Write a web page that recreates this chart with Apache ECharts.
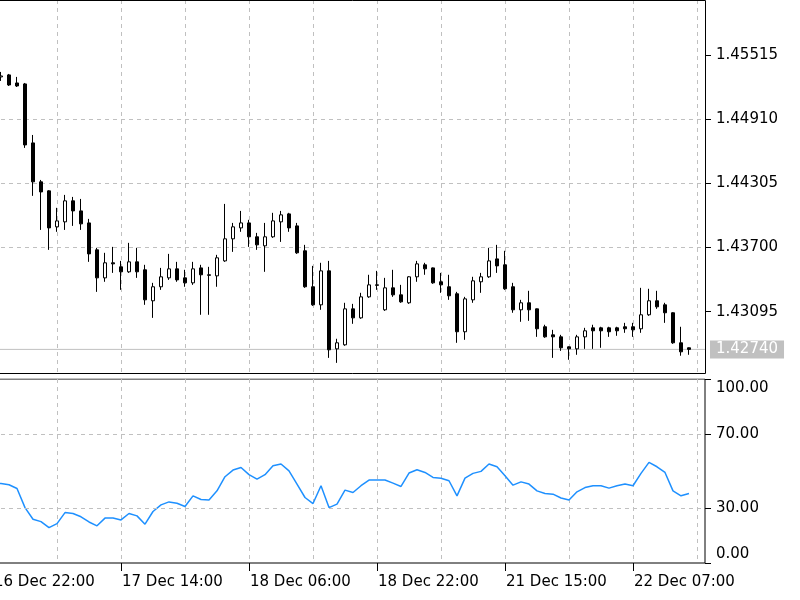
<!DOCTYPE html>
<html>
<head>
<meta charset="utf-8">
<script src="https://cdn.jsdelivr.net/npm/echarts@6/dist/echarts.min.js"></script>
<style>html,body{margin:0;padding:0;background:#fff}#main{width:800px;height:600px}</style>
</head>
<body>
<div id="main"></div>
<script>
// ---- time categories (one per hourly bar, incl. one bar left of view and two empty slots at right)
const timeSegments = [['16 Dec', 22, 23], ['17 Dec', 0, 23], ['18 Dec', 0, 22], ['21 Dec', 0, 23], ['22 Dec', 0, 16]];
const categories = [];
timeSegments.forEach(function (s) {
  for (let h = s[1]; h <= s[2]; h++) categories.push(s[0] + ' ' + (h < 10 ? '0' : '') + h + ':00');
});

// ---- OHLC (bars 16 Dec 23:00 .. 22 Dec 14:00)
const opens = [1.45308,1.45327,1.45251,1.45242,1.44686,1.44319,1.44234,1.43895,1.43942,1.44140,
1.44045,1.43932,1.43678,1.43414,1.43556,1.43518,1.43471,1.43565,1.43490,1.43198,
1.43330,1.43414,1.43499,1.43414,1.43367,1.43508,1.43443,1.43433,1.43574,1.43782,
1.43885,1.43932,1.43801,1.43716,1.43801,1.43942,1.44017,1.43904,1.43669,1.43330,
1.43160,1.43480,1.42745,1.42783,1.43122,1.43037,1.43235,1.43348,1.43113,1.43320,
1.43254,1.43179,1.43424,1.43537,1.43508,1.43377,1.43330,1.43264,1.42906,1.43207,
1.43377,1.43424,1.43593,1.43537,1.43330,1.43113,1.43179,1.43122,1.42953,1.42877,
1.42858,1.42764,1.42745,1.42858,1.42943,1.42943,1.42943,1.42943,1.42953,1.42953,
1.42934,1.43066,1.43198,1.43160,1.43085,1.42802,1.42755];
const closes = [1.45317,1.45232,1.45223,1.44667,1.44319,1.44224,1.43885,1.43951,1.44140,1.44045,
1.43923,1.43640,1.43414,1.43556,1.43546,1.43471,1.43565,1.43471,1.43207,1.43330,
1.43424,1.43499,1.43395,1.43367,1.43499,1.43443,1.43438,1.43603,1.43782,1.43895,
1.43932,1.43801,1.43725,1.43801,1.43951,1.44008,1.43885,1.43650,1.43330,1.43160,
1.43480,1.42736,1.42802,1.43122,1.43037,1.43235,1.43348,1.43344,1.43320,1.43254,
1.43188,1.43424,1.43546,1.43499,1.43367,1.43348,1.43245,1.42906,1.43216,1.43386,
1.43424,1.43574,1.43527,1.43311,1.43113,1.43179,1.43113,1.42934,1.42858,1.42858,
1.42755,1.42745,1.42858,1.42915,1.42915,1.42915,1.42906,1.42915,1.42934,1.42924,
1.43066,1.43198,1.43141,1.43085,1.42802,1.42717,1.42740];
const lows = [1.45270,1.45223,1.45213,1.44639,1.44187,1.43866,1.43678,1.43848,1.43866,1.43904,
1.43866,1.43565,1.43282,1.43377,1.43461,1.43301,1.43461,1.43414,1.43160,1.43037,
1.43301,1.43395,1.43377,1.43330,1.43348,1.43066,1.43066,1.43330,1.43565,1.43659,
1.43848,1.43706,1.43678,1.43471,1.43791,1.43753,1.43848,1.43640,1.43320,1.43150,
1.43113,1.42660,1.42613,1.42774,1.42981,1.43028,1.43226,1.43301,1.43103,1.43235,
1.43179,1.43169,1.43377,1.43443,1.43358,1.43273,1.43207,1.42802,1.42830,1.43179,
1.43273,1.43414,1.43461,1.43301,1.43085,1.43000,1.43009,1.42858,1.42849,1.42660,
1.42726,1.42642,1.42689,1.42745,1.42745,1.42755,1.42858,1.42868,1.42896,1.42858,
1.42896,1.43056,1.43122,1.42990,1.42792,1.42680,1.42689];
const highs = [1.45355,1.45336,1.45308,1.45251,1.44761,1.44337,1.44240,1.44074,1.44196,1.44177,
1.44158,1.43970,1.43697,1.43650,1.43706,1.43574,1.43744,1.43697,1.43537,1.43367,
1.43508,1.43640,1.43565,1.43490,1.43565,1.43537,1.43518,1.43631,1.44111,1.43932,
1.44045,1.43961,1.43838,1.43932,1.44027,1.44045,1.44027,1.43932,1.43725,1.43527,
1.43556,1.43574,1.42840,1.43179,1.43169,1.43273,1.43443,1.43480,1.43414,1.43490,
1.43348,1.43430,1.43574,1.43556,1.43512,1.43461,1.43443,1.43282,1.43235,1.43424,
1.43461,1.43697,1.43725,1.43669,1.43367,1.43207,1.43292,1.43125,1.42972,1.42924,
1.42877,1.42768,1.42877,1.42943,1.42972,1.42953,1.42953,1.42953,1.42990,1.42990,
1.43320,1.43311,1.43292,1.43179,1.43090,1.42953,1.42758];

// ---- RSI (from 16 Dec 22:00)
const rsiValues = [43.5,43.2,42.5,40.5,30.1,23.8,22.5,19.2,21.4,27.4,26.9,
25.1,22.3,20.2,24.4,24.4,23.4,26.9,25.6,21.1,28.0,
31.6,33.2,32.5,30.7,36.5,34.5,34.3,39.2,46.9,50.5,
51.9,48.0,45.6,48.0,52.9,53.8,50.1,42.9,35.6,32.3,
42.0,30.1,32.0,39.6,38.3,42.0,45.1,45.1,45.1,43.4,
41.6,48.9,50.7,49.2,46.5,46.1,44.7,36.5,46.1,48.7,
49.8,53.8,52.3,47.4,42.3,44.1,42.9,39.2,37.8,37.4,
35.3,34.2,38.7,41.0,42.0,42.0,40.7,42.0,42.9,42.0,
48.7,54.7,52.3,49.2,39.2,36.5,37.8];

// ---- axis ticks / levels
const priceTicks = [1.43095, 1.43700, 1.44305, 1.44910, 1.45515];
const priceMin = 1.42490, priceMax = 1.46033, priceStep = 0.00605;
const currentPrice = 1.42740;
const rsiTicks = [0, 30, 70, 100];
const rsiLevels = [30, 70];

// ---- build series data (index 0 = bar left of view)
const candleData = categories.map(function (c, i) {
  const k = i - 1;
  if (k < 0 || k >= opens.length) return '-';
  return [opens[k], closes[k], lows[k], highs[k]];
});
const rsiData = categories.map(function (c, i) {
  return i < rsiValues.length ? rsiValues[i] : '-';
});
const priceLineData = categories.map(function () { return currentPrice; });

const FONT = 'DejaVu Sans';
const FS = 15;
const gridDash = { color: '#c0c0c0', type: [4, 4], width: 1 };

const chart = echarts.init(document.getElementById('main'), null, { renderer: 'canvas' });
chart.setOption({
  animation: false,
  backgroundColor: '#ffffff',
  grid: [
    { left: -7, width: 712, top: 0, height: 375.9, show: false, containLabel: false, outerBoundsMode: 'none' },
    { left: -7, width: 712, top: 379, height: 184, show: true, borderColor: '#000', borderWidth: 1, backgroundColor: 'transparent', containLabel: false, outerBoundsMode: 'none' }
  ],
  xAxis: [
    { type: 'category', gridIndex: 0, data: categories, boundaryGap: false,
      axisLine: { show: false }, axisTick: { show: false }, axisLabel: { show: false },
      splitLine: { show: true, interval: 7, lineStyle: gridDash } },
    { type: 'category', gridIndex: 1, data: categories, boundaryGap: false,
      axisLine: { show: false },
      axisTick: { show: true, interval: 15, length: 8, lineStyle: { color: '#000', width: 1 } },
      axisLabel: { show: true, interval: 15, align: 'left', margin: 12, fontSize: FS, fontFamily: FONT, color: '#000', padding: [0, 0, 0, 1],
        hideOverlap: false },
      splitLine: { show: true, interval: 7, lineStyle: gridDash } }
  ],
  yAxis: [
    { type: 'value', gridIndex: 0, position: 'right', min: priceMin, max: priceMax, interval: priceStep,
      axisLine: { show: false },
      axisTick: { show: true, length: 6, customValues: priceTicks, lineStyle: { color: '#000' } },
      axisLabel: { show: true, customValues: priceTicks, margin: 11, fontSize: FS, fontFamily: FONT, color: '#000',
        formatter: function (v) { return v.toFixed(5); } },
      splitLine: { show: true, showMinLine: false, showMaxLine: false, lineStyle: gridDash } },
    { type: 'value', gridIndex: 1, position: 'right', min: 0, max: 100,
      axisLine: { show: false },
      axisTick: { show: true, length: 6, customValues: rsiTicks, lineStyle: { color: '#000' } },
      axisLabel: { show: true, customValues: rsiTicks, margin: 11, fontSize: FS, fontFamily: FONT, color: '#000',
        formatter: function (v) {
          if (v === 100) return '{t|' + v.toFixed(2) + '}';
          if (v === 0) return '{b|' + v.toFixed(2) + '}';
          return v.toFixed(2);
        },
        rich: {
          t: { fontSize: FS, fontFamily: FONT, color: '#000', padding: [18, 0, 0, 0] },
          b: { fontSize: FS, fontFamily: FONT, color: '#000', padding: [0, 0, 18, 0] }
        } },
      splitLine: { show: false } }
  ],
  series: [
    { type: 'line', xAxisIndex: 0, yAxisIndex: 0, data: priceLineData, z: 1, symbol: 'none', showSymbol: false, silent: true,
      lineStyle: { color: '#c0c0c0', width: 1 }, itemStyle: { color: '#c0c0c0' },
      endLabel: { show: true, distance: 5, formatter: function () { return currentPrice.toFixed(5); },
        backgroundColor: '#c0c0c0', color: '#ffffff', fontSize: FS, fontFamily: FONT, padding: [2, 6, 1, 6] } },
    { type: 'candlestick', xAxisIndex: 0, yAxisIndex: 0, data: candleData, barWidth: 4, z: 2,
      itemStyle: { color: '#ffffff', color0: '#000000', borderColor: '#000000', borderColor0: '#000000', borderWidth: 1 } },
    { type: 'line', xAxisIndex: 1, yAxisIndex: 1, data: rsiData, showSymbol: false, symbol: 'none',
      lineStyle: { color: '#1e90ff', width: 1.5 }, itemStyle: { color: '#1e90ff' },
      markLine: { silent: true, symbol: 'none', animation: false,
        lineStyle: gridDash, label: { show: false },
        data: rsiLevels.map(function (v) { return { yAxis: v }; }) } }
  ],
  graphic: [
    { type: 'rect', z: 100, silent: true, shape: { x: 0, y: 374, width: 706, height: 4.5 }, style: { fill: '#ffffff' } },
    { type: 'rect', z: 101, silent: true, shape: { x: -5, y: 0.5, width: 710.5, height: 373 }, style: { fill: 'none', stroke: '#000', lineWidth: 1 } }
  ]
});
</script>
</body>
</html>
